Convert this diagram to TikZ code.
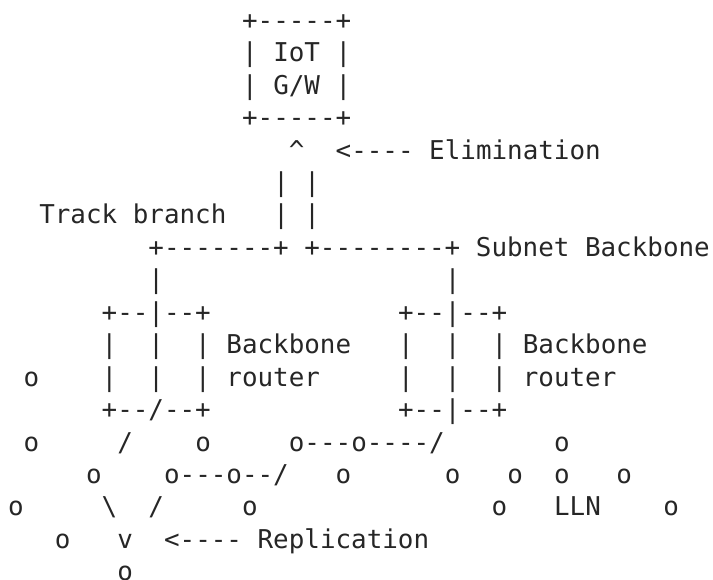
\documentclass[tikz,border=0pt]{standalone}
\usepackage{fontspec}
\setmonofont{DejaVu Sans Mono}
\usepackage{tikz}
\usetikzlibrary{positioning}

\begin{document}
\begin{tikzpicture}
    [
        x=15.6pt, y=-32.44pt,
        ascii/.style = {
            anchor=base west, inner sep=0pt, text=black!85,
            font=\ttfamily\fontsize{25.9}{32}\selectfont
        },
    ]
    \useasboundingbox (-0.506,0.097) rectangle (45.2,17.976);
    % IoT gateway
    \node[ascii] (gwtop) at (15,1) {+-----+};
    \node[ascii] (gwiot) at (15,2) {| IoT |};
    \node[ascii] (gwname) at (15,3) {| G/W |};
    \node[ascii] (gwbot) at (15,4) {+-----+};
    \node[ascii] (elimtip) at (18,5) {\textasciicircum};
    \node[ascii] (elim) at (21,5) {<---- Elimination};
    \node[ascii] (trackup) at (17,6) {| |};
    \node[ascii] (track) at (2,7) {Track branch};
    \node[ascii] (trackdown) at (17,7) {| |};
    % subnet backbone
    \node[ascii] (backbone) at (9,8) {+-------+ +--------+ Subnet Backbone};
    \node[ascii] (bbleft) at (9,9) {|};
    \node[ascii] (bbright) at (28,9) {|};
    % backbone routers
    \node[ascii] (rltop) at (6,10) {+--|--+};
    \node[ascii] (rrtop) at (25,10) {+--|--+};
    \node[ascii] (rlmid) at (6,11) {|~~|~~| Backbone};
    \node[ascii] (rrmid) at (25,11) {|~~|~~| Backbone};
    \node[ascii] (n1) at (1,12) {o};
    \node[ascii] (rllow) at (6,12) {|~~|~~| router};
    \node[ascii] (rrlow) at (25,12) {|~~|~~| router};
    \node[ascii] (rlbot) at (6,13) {+--/--+};
    \node[ascii] (rrbot) at (25,13) {+--|--+};
    % LLN
    \node[ascii] (n2) at (1,14) {o};
    \node[ascii] (s1) at (7,14) {/};
    \node[ascii] (n3) at (12,14) {o};
    \node[ascii] (p1) at (18,14) {o---o----/};
    \node[ascii] (n4) at (35,14) {o};
    \node[ascii] (n5) at (5,15) {o};
    \node[ascii] (p2) at (10,15) {o---o--/};
    \node[ascii] (n6) at (21,15) {o};
    \node[ascii] (n7) at (28,15) {o};
    \node[ascii] (n8) at (32,15) {o};
    \node[ascii] (n9) at (35,15) {o};
    \node[ascii] (n10) at (39,15) {o};
    \node[ascii] (n11) at (0,16) {o};
    \node[ascii] (s2) at (6,16) {\textbackslash};
    \node[ascii] (s3) at (9,16) {/};
    \node[ascii] (n12) at (15,16) {o};
    \node[ascii] (n13) at (31,16) {o};
    \node[ascii] (lln) at (35,16) {LLN};
    \node[ascii] (n14) at (42,16) {o};
    \node[ascii] (n15) at (3,17) {o};
    \node[ascii] (repltip) at (7,17) {v};
    \node[ascii] (repl) at (10,17) {<---- Replication};
    \node[ascii] (n16) at (7,18) {o};
\end{tikzpicture}
\end{document}
